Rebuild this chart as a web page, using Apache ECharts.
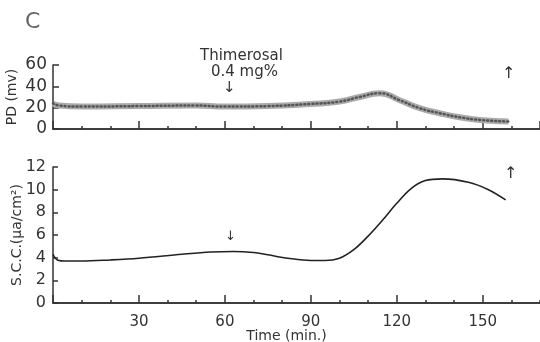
<!DOCTYPE html>
<html>
<head>
<meta charset="utf-8">
<script src="https://cdn.jsdelivr.net/npm/echarts@6/dist/echarts.min.js"></script>
<style>
  html, body { margin: 0; padding: 0; background: #fff; }
  #chart { width: 540px; height: 342px; }
</style>
</head>
<body>
<div id="chart"></div>
<script>
// PD trace (top panel), mV
const pdTime = [0, 2, 10, 30, 50, 60, 75, 90, 100, 107, 114, 121, 128, 135, 142, 149, 159];
const pdValue = [24, 22, 21, 21.5, 22, 21, 21.5, 23.5, 25.7, 30, 33.5, 27, 19.5, 14.8, 11, 8.5, 7];

// short-circuit current (bottom panel), uA/cm2
const sccTime = [0, 1.5, 5, 10, 20, 30, 45, 55, 63, 70, 75, 82, 90, 95, 100, 105, 110, 115, 120, 125, 130, 136, 145, 152, 158];
const sccValue = [4.3, 3.8, 3.7, 3.7, 3.8, 3.95, 4.3, 4.5, 4.55, 4.45, 4.25, 3.95, 3.75, 3.75, 3.95, 4.7, 5.9, 7.3, 8.8, 10.1, 10.8, 10.95, 10.65, 10.0, 9.1];

const timeLabels = [30, 60, 90, 120, 150];
const pdTicks = [0, 20, 40, 60];
const sccTicks = [0, 2, 4, 6, 8, 10, 12];

const FONT = "DejaVu Sans";
const INK = "#333";

const chart = echarts.init(document.getElementById("chart"), null, { renderer: "canvas" });

const pdPairs = pdTime.map((t, i) => [t, pdValue[i]]);
const sccPairs = sccTime.map((t, i) => [t, sccValue[i]]);

// two x axes per panel: short ticks every 10 min, long ticks every 30 min
const baseX = (gridIndex, interval, tickLen, showLabels) => ({
  type: "value",
  gridIndex,
  position: "bottom",
  min: 0,
  max: 170,
  interval,
  axisLine: { lineStyle: { color: INK, width: 1.5 } },
  axisTick: { show: true, inside: true, length: tickLen, lineStyle: { color: INK, width: 1.5 } },
  splitLine: { show: false },
  axisLabel: {
    show: showLabels,
    showMaxLabel: false,
    margin: 12,
    fontFamily: FONT,
    fontSize: 15,
    color: INK,
    formatter: (v) => (timeLabels.includes(v) ? String(v) : ""),
  },
});

const option = {
  animation: false,
  title: {
    text: "C",
    left: 20,
    top: 6,
    textStyle: { fontFamily: FONT, fontSize: 22, fontWeight: "normal", color: "#666" },
  },
  grid: [
    { left: 53, right: 0, top: 65, height: 64, outerBoundsMode: "none" },
    { left: 53, right: 0, top: 167, height: 136, outerBoundsMode: "none" },
  ],
  xAxis: [
    baseX(0, 10, 3, false),
    baseX(0, 30, 8, false),
    baseX(1, 10, 3, false),
    {
      ...baseX(1, 30, 8, true),
      name: "Time (min.)",
      nameLocation: "middle",
      nameGap: 26,
      nameMoveOverlap: false,
      nameTextStyle: { fontFamily: FONT, fontSize: 14, color: INK, padding: [0, 20, 0, 0] },
    },
  ],
  yAxis: [
    {
      type: "value",
      gridIndex: 0,
      min: pdTicks[0],
      max: pdTicks[pdTicks.length - 1],
      interval: 20,
      name: "PD (mv)",
      nameLocation: "middle",
      nameGap: 34,
      nameMoveOverlap: false,
      nameTextStyle: { fontFamily: FONT, fontSize: 14, color: INK },
      axisLine: { show: true, lineStyle: { color: INK, width: 1.5 } },
      axisTick: { show: true, inside: true, length: 6, lineStyle: { color: INK, width: 1.5 } },
      splitLine: { show: false },
      axisLabel: { margin: 6, fontFamily: FONT, fontSize: 17, color: INK },
    },
    {
      type: "value",
      gridIndex: 1,
      min: sccTicks[0],
      max: sccTicks[sccTicks.length - 1],
      interval: 2,
      name: "S.C.C.(\u03bca/cm\u00b2)",
      nameLocation: "middle",
      nameGap: 29,
      nameMoveOverlap: false,
      nameTextStyle: { fontFamily: FONT, fontSize: 14, color: INK },
      axisLine: { show: true, lineStyle: { color: INK, width: 1.5 } },
      axisTick: { show: true, inside: true, length: 5, lineStyle: { color: INK, width: 1.5 } },
      splitLine: { show: false },
      axisLabel: { margin: 7, fontFamily: FONT, fontSize: 16, color: INK },
    },
  ],
  series: [
    {
      type: "line",
      xAxisIndex: 0,
      yAxisIndex: 0,
      data: pdPairs,
      smooth: 0.5,
      showSymbol: false,
      lineStyle: { color: "#aaa", width: 6 },
      z: 2,
    },
    {
      type: "line",
      xAxisIndex: 0,
      yAxisIndex: 0,
      data: pdPairs,
      smooth: 0.5,
      showSymbol: false,
      lineStyle: { color: "#555", width: 2.5, type: [1, 3], cap: "round" },
      z: 3,
    },
    {
      type: "line",
      xAxisIndex: 2,
      yAxisIndex: 1,
      data: sccPairs,
      smooth: 0.35,
      showSymbol: false,
      lineStyle: { color: "#222", width: 1.6 },
    },
  ],
  graphic: [
    { type: "text", left: 200, top: 49, style: { text: "Thimerosal", fontFamily: FONT, fontSize: 15, fill: INK } },
    { type: "text", left: 211, top: 65, style: { text: "0.4 mg%", fontFamily: FONT, fontSize: 15, fill: INK } },
    { type: "text", left: 223, top: 81, style: { text: "\u2193", fontFamily: FONT, fontSize: 15, fill: INK } },
    { type: "text", left: 502, top: 66, style: { text: "\u2191", fontFamily: FONT, fontSize: 16, fill: INK } },
    { type: "text", left: 225, top: 230, style: { text: "\u2193", fontFamily: FONT, fontSize: 13, fill: INK } },
    { type: "text", left: 504, top: 166, style: { text: "\u2191", fontFamily: FONT, fontSize: 16, fill: INK } },
  ],
};

chart.setOption(option);
</script>
</body>
</html>
